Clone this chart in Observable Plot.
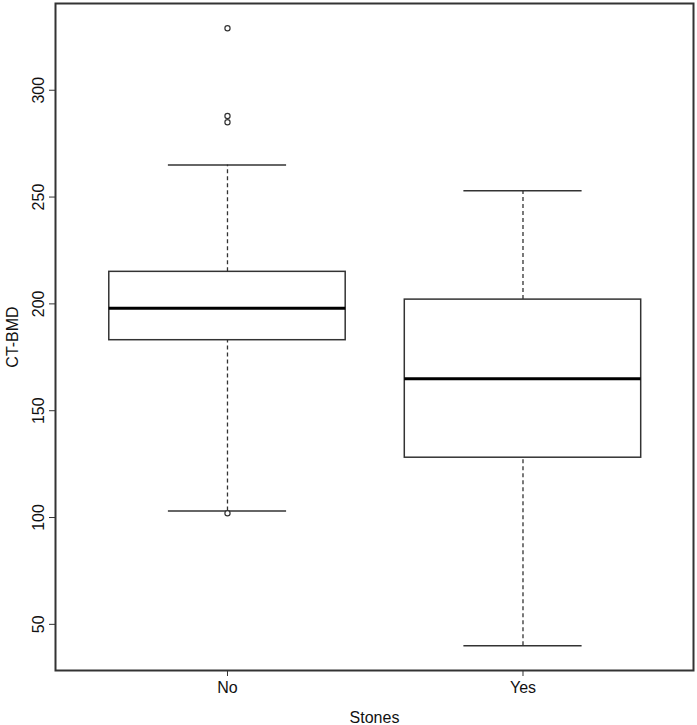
<!DOCTYPE html>
<html>
<head>
<meta charset="utf-8">
<script src="https://cdn.jsdelivr.net/npm/d3@7"></script>
<script src="https://cdn.jsdelivr.net/npm/@observablehq/plot@0.6"></script>
<style>
  html, body { margin: 0; padding: 0; background: #fff; }
  #chart svg { display: block; }
</style>
</head>
<body>
<div id="chart"></div>
<script>
const groups = ["No", "Yes"];
const lowerWhisker = [103, 40];
const q1 = [183, 128];
const medians = [198, 165];
const q3 = [215, 202];
const upperWhisker = [265, 253];
const outlierGroups = ["No", "No", "No", "No"];
const outlierValues = [329, 288, 285, 102];
const yTicks = [50, 100, 150, 200, 250, 300];

const boxes = groups.map((g, i) => ({
  g, x: i + 1,
  lo: lowerWhisker[i], q1: q1[i], med: medians[i], q3: q3[i], hi: upperWhisker[i]
}));
const outliers = outlierValues.map((v, i) => ({x: groups.indexOf(outlierGroups[i]) + 1, v}));

const ink = "#333";
const chart = Plot.plot({
  width: 697,
  height: 725,
  marginLeft: 55,
  marginRight: 4,
  marginTop: 3,
  marginBottom: 55,
  style: {fontFamily: "'Liberation Sans', Arial, sans-serif", fontSize: "16px", color: "#111", background: "#fff"},
  x: {domain: [0.418, 2.577]},
  y: {domain: [28.4, 340.6]},
  marks: [
    Plot.ruleX(boxes, {x: "x", y1: "q3", y2: "hi", stroke: ink, strokeWidth: 1.3, strokeDasharray: "4,3"}),
    Plot.ruleX(boxes, {x: "x", y1: "lo", y2: "q1", stroke: ink, strokeWidth: 1.3, strokeDasharray: "4,3"}),
    Plot.ruleY(boxes, {y: "hi", x1: d => d.x - 0.2, x2: d => d.x + 0.2, stroke: ink, strokeWidth: 1.5}),
    Plot.ruleY(boxes, {y: "lo", x1: d => d.x - 0.2, x2: d => d.x + 0.2, stroke: ink, strokeWidth: 1.5}),
    Plot.rect(boxes, {x1: d => d.x - 0.4, x2: d => d.x + 0.4, y1: "q1", y2: "q3", fill: "white", stroke: ink, strokeWidth: 1.5}),
    Plot.ruleY(boxes, {y: "med", x1: d => d.x - 0.4, x2: d => d.x + 0.4, stroke: "#000", strokeWidth: 3}),
    Plot.dot(outliers, {x: "x", y: "v", r: 2.6, stroke: ink, strokeWidth: 1.2, fill: "white"}),
    Plot.frame({stroke: ink, strokeWidth: 2}),
    Plot.axisY({
      ticks: yTicks, tickSize: 6, tickPadding: 6, tickRotate: -90,
      stroke: ink, fontSize: 16,
      label: "CT-BMD", labelAnchor: "center", labelArrow: "none", labelOffset: 49
    }),
    Plot.axisX({
      ticks: [1, 2], tickFormat: d => groups[d - 1], tickSize: 6, tickPadding: 5,
      stroke: ink, fontSize: 16,
      label: "Stones", labelAnchor: "center", labelArrow: "none", labelOffset: 52
    })
  ]
});
document.getElementById("chart").appendChild(chart);
</script>
</body>
</html>
